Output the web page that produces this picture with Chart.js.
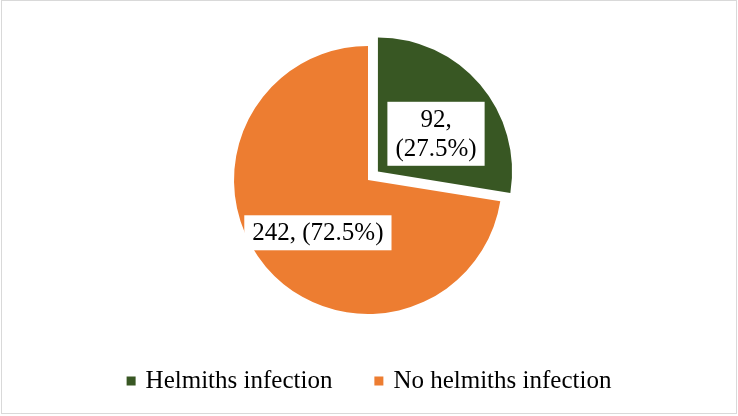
<!DOCTYPE html>
<html lang="en">
<head>
    <meta charset="UTF-8">
    <title>Helminth infection</title>
    <script src="https://cdn.jsdelivr.net/npm/chart.js"></script>
    <style>
        html, body { margin: 0; padding: 0; background: #fff; }
        canvas { display: block; }
    </style>
</head>
<body>
    <canvas id="pieChart" width="738" height="416"></canvas>

    <script>
        const categories = ["Helmiths infection", "No helmiths infection"];
        const counts = [92, 242];
        const colors = ["#385723", "#ED7D31"];
        const explode = [13, 0];          // visible pull-out in px
        const wrapLabel = [true, false];

        const FONT = "'Liberation Serif', 'Times New Roman', serif";
        const total = counts.reduce((a, b) => a + b, 0);

        // white-boxed data labels like the office export
        const sliceLabels = {
            id: "sliceLabels",
            afterDatasetsDraw(chart, args, opts) {
                const ctx = chart.ctx;
                const arcs = chart.getDatasetMeta(0).data;
                const nudge = opts.nudge || [];
                ctx.save();
                ctx.font = "25px " + FONT;
                ctx.textAlign = "center";
                ctx.textBaseline = "middle";
                arcs.forEach((arc, i) => {
                    const v = counts[i];
                    const pct = (v / total * 100).toFixed(1);
                    const lines = wrapLabel[i] ? [v + ",", "(" + pct + "%)"] : [v + ", (" + pct + "%)"];
                    const mid = (arc.startAngle + arc.endAngle) / 2;
                    const dist = arc.outerRadius * 0.55 + explode[i];
                    const [nx, ny] = nudge[i] || [0, 0];
                    const cx = arc.x + Math.cos(mid) * dist + nx;
                    const cy = arc.y + Math.sin(mid) * dist + ny;
                    const lh = 29;
                    const w = Math.max(...lines.map(l => ctx.measureText(l).width)) + 16;
                    const h = lines.length * lh + 6;
                    ctx.fillStyle = "#fff";
                    ctx.fillRect(cx - w / 2, cy - h / 2, w, h);
                    ctx.fillStyle = "#000";
                    lines.forEach((l, k) => {
                        ctx.fillText(l, cx, cy - (lines.length - 1) * lh / 2 + k * lh + 1);
                    });
                });
                ctx.restore();
            }
        };

        // bottom legend + outer frame
        const frameLegend = {
            id: "frameLegend",
            afterDraw(chart) {
                const ctx = chart.ctx;
                ctx.save();
                ctx.strokeStyle = "#d9d9d9";
                ctx.lineWidth = 1;
                ctx.strokeRect(1.5, 0.5, 735, 413);

                ctx.font = "25px " + FONT;
                ctx.textBaseline = "middle";
                const box = 9, gapText = 10, gapItem = 42;
                const widths = categories.map(c => box + gapText + ctx.measureText(c).width);
                const full = widths.reduce((a, b) => a + b, 0) + gapItem * (categories.length - 1);
                let x = (chart.width - full) / 2;
                const y = 381;
                categories.forEach((c, i) => {
                    ctx.fillStyle = colors[i];
                    ctx.fillRect(x, y - box / 2, box, box);
                    ctx.fillStyle = "#000";
                    ctx.fillText(c, x + box + gapText, y);
                    x += widths[i] + gapItem;
                });
                ctx.restore();
            }
        };

        document.addEventListener("DOMContentLoaded", () => {
            const ctx = document.getElementById("pieChart").getContext("2d");
            new Chart(ctx, {
                type: "pie",
                data: {
                    labels: categories,
                    datasets: [{
                        data: counts,
                        backgroundColor: colors,
                        borderWidth: 0,
                        // Chart.js draws arcs shifted by offset / 4
                        offset: explode.map(o => o * 4)
                    }]
                },
                options: {
                    responsive: false,
                    animation: false,
                    layout: { padding: { top: 20, bottom: 76, left: 0, right: 2 } },
                    plugins: {
                        legend: { display: false },
                        tooltip: { enabled: false },
                        sliceLabels: { nudge: [[2, 10], [6, 5]] }
                    }
                },
                plugins: [sliceLabels, frameLegend]
            });
        });
    </script>
</body>
</html>
